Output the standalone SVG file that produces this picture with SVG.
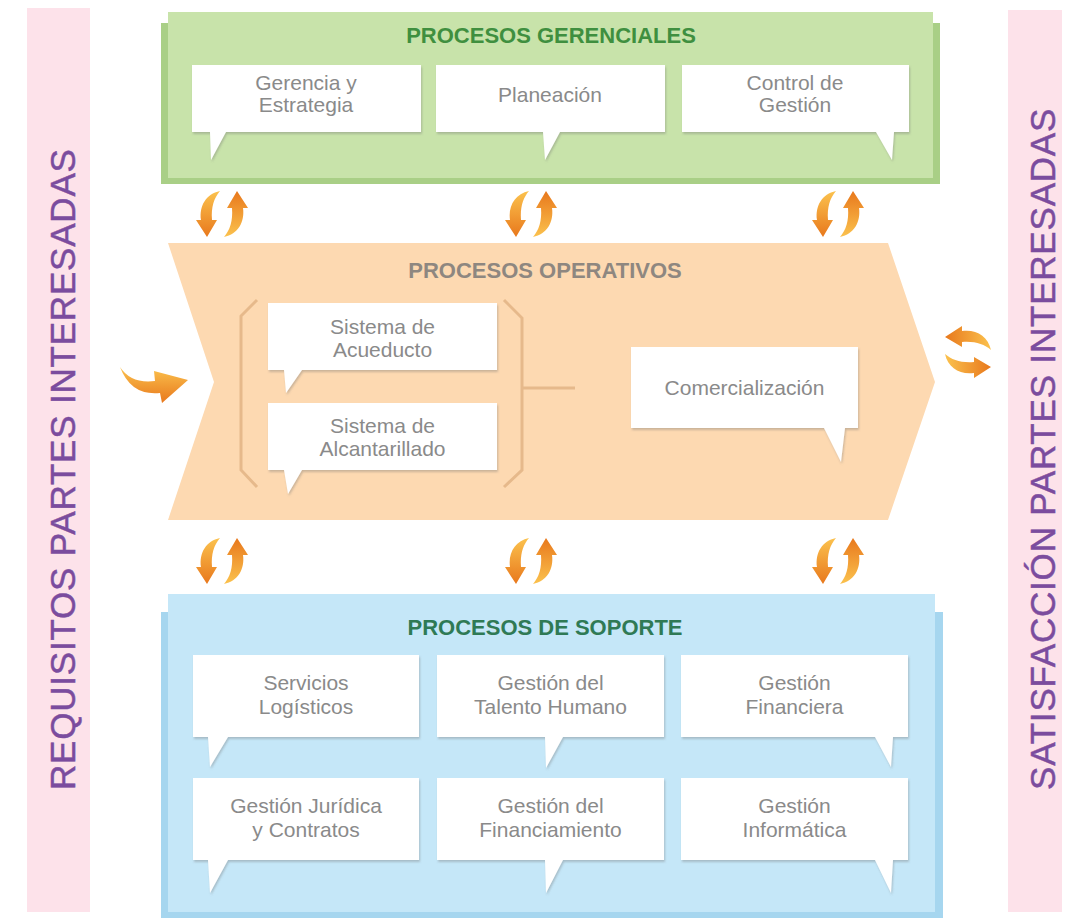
<svg xmlns="http://www.w3.org/2000/svg" xmlns:xlink="http://www.w3.org/1999/xlink" width="1069" height="920" viewBox="0 0 1069 920">
<style>
.side{font-family:"Liberation Sans",Arial,sans-serif;font-size:35px;fill:#7b4c9e;stroke:#7b4c9e;stroke-width:0.5px;letter-spacing:0.8px}
.title{font-family:"Liberation Sans",Arial,sans-serif;font-size:22px;font-weight:bold;text-anchor:middle}
.lbl{font-family:"Liberation Sans",Arial,sans-serif;font-size:21px;fill:#8a8a8a;text-anchor:middle}
.box{fill:#ffffff;filter:url(#sh)}
.brk{fill:none;stroke:#e6b98b;stroke-width:3}
.arr{fill:url(#og)}
</style>
<defs>
<filter id="sh" x="-5%" y="-5%" width="115%" height="130%">
<feDropShadow dx="1" dy="2" stdDeviation="1.2" flood-color="#6b6b6b" flood-opacity="0.35"/>
</filter>
<linearGradient id="og" x1="0" y1="0" x2="0" y2="1">
<stop offset="0" stop-color="#fbc24e"/>
<stop offset="1" stop-color="#e8781c"/>
</linearGradient>
<g id="sync">
<path class="arr" d="M-2,-23 C-16,-20 -23,-8 -21,6 L-26,6 L-15,23 L-5,6 L-10,6 C-11,-7 -8,-16 -2,-23 Z"/>
<path class="arr" transform="rotate(180)" d="M-2,-23 C-16,-20 -23,-8 -21,6 L-26,6 L-15,23 L-5,6 L-10,6 C-11,-7 -8,-16 -2,-23 Z"/>
</g>
</defs>
<rect width="1069" height="920" fill="#ffffff"/>

<g id="requisitos">
<rect x="27" y="8" width="63" height="904" fill="#fde2ea"/>
<text class="side" transform="translate(75,790) rotate(-90)">REQUISITOS PARTES INTERESADAS</text>
</g>
<g id="satisfaccion">
<rect x="1008" y="10" width="54" height="902" fill="#fde2ea"/>
<text class="side" transform="translate(1055,790) rotate(-90)">SATISFACCIÓN PARTES INTERESADAS</text>
</g>

<g id="gerenciales">
<rect x="161" y="23" width="779" height="161" fill="#a9cf86"/>
<rect x="168" y="12" width="765" height="166" fill="#c8e3aa"/>
<text class="title" x="551" y="43" fill="#3f8f3f">PROCESOS GERENCIALES</text>
</g>
<g id="gerencia">
<path class="box" d="M192,65 H421 V132 H226 L211,160 L210,132 H192 Z"/>
<text class="lbl" x="306" y="90">Gerencia y</text>
<text class="lbl" x="306" y="112">Estrategia</text>
</g>
<g id="planeacion">
<path class="box" d="M436,65 H665 V132 H560 L545,160 L543,132 H436 Z"/>
<text class="lbl" x="550" y="102">Planeación</text>
</g>
<g id="control">
<path class="box" d="M682,65 H909 V132 H894 L892,160 L876,132 H682 Z"/>
<text class="lbl" x="795" y="90">Control de</text>
<text class="lbl" x="795" y="112">Gestión</text>
</g>

<g id="operativos">
<polygon points="168,243 888,243 935,382 888,520 168,520 214,382" fill="#fdd9b1"/>
<text class="title" x="545" y="278" fill="#8e8780">PROCESOS OPERATIVOS</text>
<path class="brk" d="M257,300 L241,316 L241,470 L257,487"/>
<path class="brk" d="M504,300 L522,318 L522,470 L504,487"/>
</g>
<g id="acueducto">
<path class="box" d="M268,303 H497 V370 H302 L286,393 L284,370 H268 Z"/>
<text class="lbl" x="382.5" y="334">Sistema de</text>
<text class="lbl" x="382.5" y="357">Acueducto</text>
</g>
<g id="alcantarillado">
<path class="box" d="M268,403 H497 V470 H302 L288,494 L284,470 H268 Z"/>
<text class="lbl" x="382.5" y="433">Sistema de</text>
<text class="lbl" x="382.5" y="456">Alcantarillado</text>
</g>
<g id="comercializacion">
<path class="box" d="M631,347 H858 V428 H845 L841,462 L824,428 H631 Z"/>
<text class="lbl" x="744.5" y="395">Comercialización</text>
</g>

<g id="soporte">
<rect x="161" y="612" width="782" height="306" fill="#a6d6ef"/>
<rect x="168" y="594" width="767" height="318" fill="#c5e7f8"/>
<text class="title" x="545" y="635" fill="#2f7a55">PROCESOS DE SOPORTE</text>
</g>
<g id="logisticos">
<path class="box" d="M193,655 H419 V737 H228 L210,767 L208,737 H193 Z"/>
<text class="lbl" x="306" y="690">Servicios</text>
<text class="lbl" x="306" y="714">Logísticos</text>
</g>
<g id="talento">
<path class="box" d="M437,655 H664 V737 H563 L546,768 L545,737 H437 Z"/>
<text class="lbl" x="550.5" y="690">Gestión del</text>
<text class="lbl" x="550.5" y="714">Talento Humano</text>
</g>
<g id="financiera">
<path class="box" d="M681,655 H908 V737 H893 L891,767 L875,737 H681 Z"/>
<text class="lbl" x="794.5" y="690">Gestión</text>
<text class="lbl" x="794.5" y="714">Financiera</text>
</g>
<g id="juridica">
<path class="box" d="M193,778 H419 V860 H228 L210,893 L208,860 H193 Z"/>
<text class="lbl" x="306" y="813">Gestión Jurídica</text>
<text class="lbl" x="306" y="837">y Contratos</text>
</g>
<g id="financiamiento">
<path class="box" d="M437,778 H664 V860 H563 L546,893 L545,860 H437 Z"/>
<text class="lbl" x="550.5" y="813">Gestión del</text>
<text class="lbl" x="550.5" y="837">Financiamiento</text>
</g>
<g id="informatica">
<path class="box" d="M681,778 H908 V860 H893 L891,893 L875,860 H681 Z"/>
<text class="lbl" x="794.5" y="813">Gestión</text>
<text class="lbl" x="794.5" y="837">Informática</text>
</g>

<g id="connectors">
<line x1="523" y1="388" x2="575" y2="388" stroke="#e6b98b" stroke-width="3"/>
<use xlink:href="#sync" transform="translate(222,214)"/>
<use xlink:href="#sync" transform="translate(531,214)"/>
<use xlink:href="#sync" transform="translate(838,214)"/>
<use xlink:href="#sync" transform="translate(222,561)"/>
<use xlink:href="#sync" transform="translate(531,561)"/>
<use xlink:href="#sync" transform="translate(838,561)"/>
<use xlink:href="#sync" transform="translate(968,352) rotate(90)"/>
<path class="arr" d="M120,367 Q131,384 155,381 L154,371 L188,380 L162,403 L160,393 Q131,396 120,367 Z"/>
</g>
</svg>
